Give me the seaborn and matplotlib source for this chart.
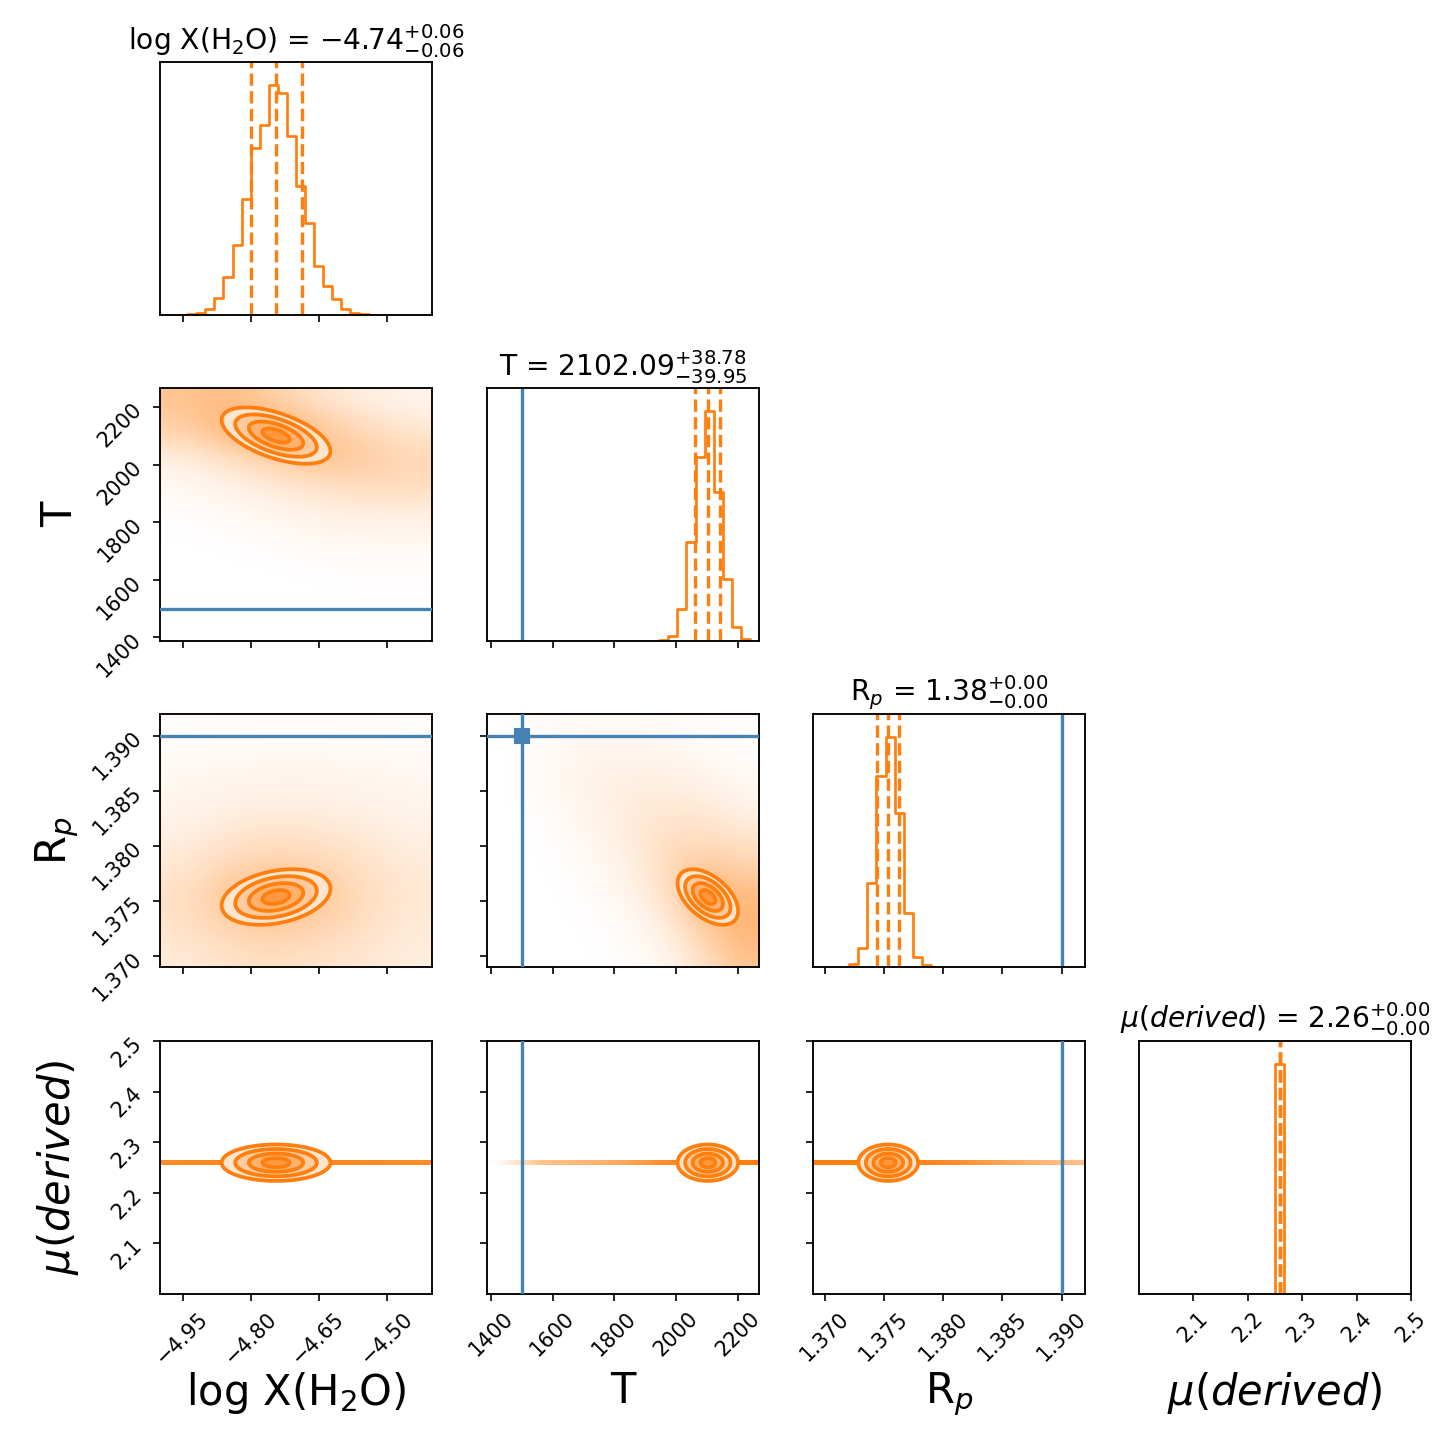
import numpy as np
import pandas as pd
import matplotlib
matplotlib.use("Agg")
import matplotlib.pyplot as plt
from matplotlib.ticker import ScalarFormatter
from matplotlib.colors import to_rgba
import seaborn as sns

sns.set_style("ticks")
plt.rcParams.update({
    "font.family": ["DejaVu Sans"],
    "mathtext.fontset": "dejavusans",
    "axes.edgecolor": "black", "xtick.color": "black", "ytick.color": "black",
    "text.color": "black", "axes.labelcolor": "black",
    "axes.linewidth": 0.9, "xtick.labelsize": 10, "ytick.labelsize": 10,
})

# ---------------- data ----------------
labels = ["log X(H$_2$O)", "T", "R$_p$", r"$\mu(derived)$"]
titles = [
    r"log X(H$_2$O) = $-4.74_{-0.06}^{+0.06}$",
    r"T = $2102.09_{-39.95}^{+38.78}$",
    r"R$_p$ = $1.38_{-0.00}^{+0.00}$",
    r"$\mu(derived)$ = $2.26_{-0.00}^{+0.00}$",
]
lims = [(-5.0, -4.4), (1387.4, 2267.7), (1.36901, 1.39197), (2.0, 2.5)]
truths = [None, 1500.0, 1.390, None]
q16 = [-4.800, 2062.14, 1.37443, 2.2590]
q50 = [-4.744, 2102.09, 1.37536, 2.2595]
q84 = [-4.687, 2140.87, 1.37630, 2.2600]

ticks_logX = [-4.95, -4.80, -4.65, -4.50]
ticks_T = [1400, 1600, 1800, 2000, 2200]
ticks_Rp = [1.370, 1.375, 1.380, 1.385, 1.390]
ticks_mu = [2.1, 2.2, 2.3, 2.4, 2.5]

# 30-bin histogram heights over each plotted range
hist_logX = [0, 0, 0.5, 2, 5, 17, 52, 115, 212, 348, 502, 572, 692, 668, 540,
             388, 278, 148, 88, 47, 19, 7, 3, 1.5, 0.5, 0, 0, 0, 0, 0]
hist_T = [0] * 19 + [3, 15, 96, 300, 556, 694, 450, 188, 43, 6, 1]
hist_Rp = [0, 0, 0, 1, 9, 56, 254, 576, 692, 464, 161, 31, 7, 1, 0,
           0, 0, 0, 0, 0, 0, 0, 0, 0, 0, 0, 0, 0, 0, 0]
hist_mu = [0] * 15 + [1] + [0] * 14

# effective widths / correlations of the 2-D credible contours
contour_sigma = [0.060, 49.0, 0.00126, 0.018]
contour_rho = {(1, 0): -0.55, (2, 0): 0.30, (2, 1): -0.50,
               (3, 0): 0.0, (3, 1): 0.0, (3, 2): 0.0}

# sample-cloud densities (rows listed from top to bottom) and their data extents
cloud_logX_T = [
    [0.65, 0.75, 0.50, 0.30, 0.18, 0.12],
    [0.50, 0.85, 1.00, 0.65, 0.40, 0.25],
    [0.18, 0.32, 0.55, 0.70, 0.60, 0.45],
    [0.06, 0.14, 0.22, 0.32, 0.38, 0.38],
    [0.02, 0.05, 0.09, 0.14, 0.17, 0.17],
    [0.00, 0.01, 0.03, 0.06, 0.07, 0.07],
    [0.00, 0.00, 0.00, 0.01, 0.02, 0.02],
    [0.00, 0.00, 0.00, 0.00, 0.00, 0.00],
    [0.00, 0.00, 0.00, 0.00, 0.00, 0.00],
]
ext_logX_T = (-5.0, -4.4, 1375.0, 2275.0)
cloud_logX_Rp = [
    [0.03, 0.04, 0.04, 0.04, 0.04, 0.03],
    [0.07, 0.09, 0.10, 0.10, 0.09, 0.08],
    [0.12, 0.16, 0.18, 0.18, 0.15, 0.12],
    [0.18, 0.28, 0.33, 0.30, 0.25, 0.18],
    [0.28, 0.48, 0.58, 0.52, 0.38, 0.25],
    [0.40, 0.75, 1.00, 0.78, 0.45, 0.30],
    [0.35, 0.55, 0.65, 0.55, 0.40, 0.26],
    [0.25, 0.35, 0.40, 0.35, 0.30, 0.22],
]
ext_logX_Rp = (-5.0, -4.4, 1.368, 1.392)
cloud_T_Rp = [
    [0.00, 0.03, 0.06, 0.07, 0.06, 0.04, 0.03, 0.02],
    [0.00, 0.04, 0.10, 0.14, 0.14, 0.12, 0.08, 0.04],
    [0.00, 0.03, 0.10, 0.17, 0.22, 0.22, 0.18, 0.10],
    [0.00, 0.01, 0.06, 0.14, 0.25, 0.33, 0.33, 0.24],
    [0.00, 0.00, 0.03, 0.09, 0.22, 0.45, 0.55, 0.45],
    [0.00, 0.00, 0.01, 0.05, 0.14, 0.40, 0.95, 0.75],
    [0.00, 0.00, 0.00, 0.02, 0.07, 0.22, 0.60, 0.85],
    [0.00, 0.00, 0.00, 0.01, 0.03, 0.12, 0.35, 0.65],
]
ext_T_Rp = (1387.0, 2267.0, 1.368, 1.392)
cloud_logX_mu = [[0.90, 0.95, 1.00, 0.95, 0.90, 0.90]]
ext_logX_mu = (-5.0, -4.4, 2.2545, 2.2625)
cloud_T_mu = [[0.00, 0.50, 0.55, 0.60, 0.75, 0.95, 1.00, 1.00]]
ext_T_mu = (1387.0, 2267.0, 2.2545, 2.2625)
cloud_Rp_mu = [[1.00, 1.00, 1.00, 0.95, 0.85, 0.70, 0.60, 0.50]]
ext_Rp_mu = (1.369, 1.392, 2.2545, 2.2625)

# ---------------- styling / layout ----------------
ORANGE = "#ff7f0e"
BLUE = "#4682b4"
hists = [hist_logX, hist_T, hist_Rp, hist_mu]
ticks = [ticks_logX, ticks_T, ticks_Rp, ticks_mu]
clouds = {(1, 0): (cloud_logX_T, ext_logX_T, 0.7),
          (2, 0): (cloud_logX_Rp, ext_logX_Rp, 0.6),
          (2, 1): (cloud_T_Rp, ext_T_Rp, 0.7),
          (3, 0): (cloud_logX_mu, ext_logX_mu, 1.0),
          (3, 1): (cloud_T_mu, ext_T_mu, 1.0),
          (3, 2): (cloud_Rp_mu, ext_Rp_mu, 1.0)}

FIG = 1455.0
col_left = [160, 487, 813, 1139]
row_top = [62, 388, 714, 1041]
PW, PH = 272, 253

fig = plt.figure(figsize=(9.7, 9.7), dpi=150)


def make_ax(i, j):
    return fig.add_axes([col_left[j] / FIG, 1 - (row_top[i] + PH) / FIG, PW / FIG, PH / FIG])


def fmt(axis):
    axis.set_major_formatter(ScalarFormatter(useOffset=False))


K = 4
orange_rgb = np.array(to_rgba(ORANGE))
for i in range(K):
    for j in range(i + 1):
        ax = make_ax(i, j)
        if i == j:
            lo, hi = lims[i]
            edges = np.linspace(lo, hi, len(hists[i]) + 1)
            df = pd.DataFrame({"x": 0.5 * (edges[1:] + edges[:-1]),
                               "w": np.asarray(hists[i], dtype=float)})
            sns.histplot(data=df, x="x", weights="w", bins=[float(e) for e in edges],
                         element="step", fill=False, color=ORANGE, linewidth=1.3, ax=ax)
            ax.set_ylim(0, 1.1 * max(hists[i]))
            ax.set_ylabel("")
            ax.set_yticks([])
            for q in (q16[i], q50[i], q84[i]):
                ax.axvline(q, ls="--", color=ORANGE, lw=1.6)
            if truths[i] is not None:
                ax.axvline(truths[i], color=BLUE, lw=1.6)
            ax.set_title(titles[i], fontsize=13.5)
        else:
            grid, ext, amax = clouds[(i, j)]
            dens = np.array(grid, dtype=float)
            rgba = np.zeros(dens.shape + (4,))
            rgba[..., :3] = orange_rgb[:3]
            rgba[..., 3] = np.clip(dens * amax, 0, 1)
            ax.imshow(rgba, extent=ext, origin="upper", aspect="auto",
                      interpolation="bicubic", zorder=1)
            # credible contours
            xs = np.linspace(lims[j][0], lims[j][1], 400)
            ys = np.linspace(lims[i][0], lims[i][1], 400)
            X, Y = np.meshgrid(xs, ys)
            u = (X - q50[j]) / contour_sigma[j]
            v = (Y - q50[i]) / contour_sigma[i]
            r = contour_rho[(i, j)]
            D = np.sqrt((u * u - 2 * r * u * v + v * v) / (1 - r * r))
            ax.contourf(X, Y, D, levels=[0, 2.0], colors=["white"], zorder=2)
            fills = [(*orange_rgb[:3], a) for a in (0.8, 0.6, 0.4, 0.2)]
            ax.contourf(X, Y, D, levels=[0, 0.5, 1.0, 1.5, 2.0], colors=fills, zorder=3)
            ax.contour(X, Y, D, levels=[0.5, 1.0, 1.5, 2.0], colors=[ORANGE],
                       linewidths=1.8, zorder=4)
            if truths[j] is not None:
                ax.axvline(truths[j], color=BLUE, lw=1.6, zorder=5)
            if truths[i] is not None:
                ax.axhline(truths[i], color=BLUE, lw=1.6, zorder=5)
            if truths[i] is not None and truths[j] is not None:
                ax.plot([truths[j]], [truths[i]], "s", color=BLUE, ms=7, zorder=6)
            ax.set_ylim(*lims[i])
            ax.set_yticks(ticks[i])
            fmt(ax.yaxis)
            if j == 0:
                for lab in ax.get_yticklabels():
                    lab.set_rotation(45)
                ax.set_ylabel(labels[i], fontsize=20)
                ax.yaxis.set_label_coords(-0.29, 0.5)
            else:
                ax.set_yticklabels([])
                ax.set_ylabel("")
        ax.set_xlim(*lims[j])
        ax.set_xticks(ticks[j])
        fmt(ax.xaxis)
        if i == K - 1:
            for lab in ax.get_xticklabels():
                lab.set_rotation(45)
            ax.set_xlabel(labels[j], fontsize=20)
            ax.xaxis.set_label_coords(0.5, -0.3)
        else:
            ax.set_xticklabels([])
            ax.set_xlabel("")

fig.savefig("out.png", dpi=150)
